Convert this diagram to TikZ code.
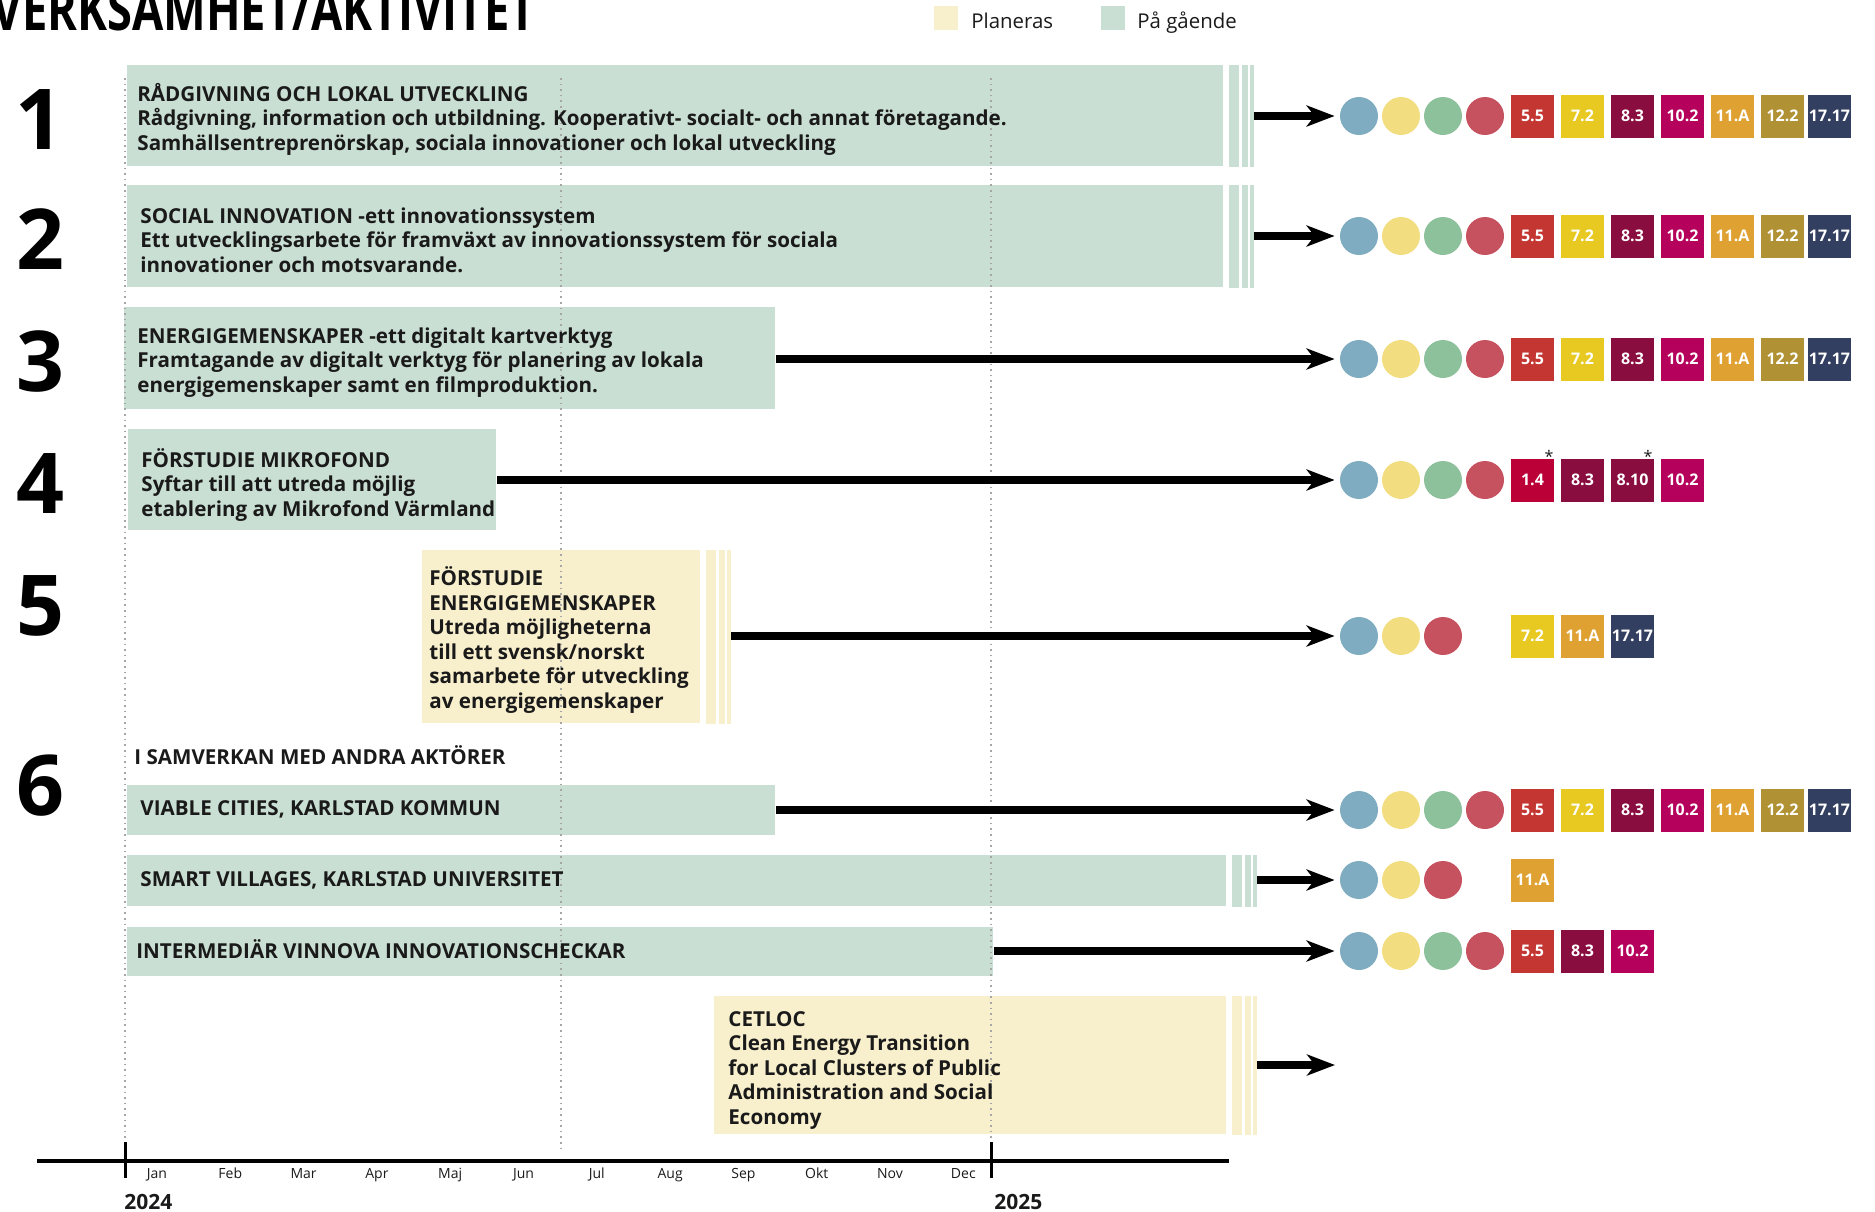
\documentclass[tikz,border=0pt]{standalone}
\usepackage{fontspec}
\setmainfont{Open Sans}
\usetikzlibrary{arrows.meta}
\definecolor{gmint}{HTML}{CADFD3}
\definecolor{ybeige}{HTML}{F8EFCD}
\definecolor{cblue}{HTML}{7FACC0}
\definecolor{cyel}{HTML}{F2DE80}
\definecolor{cgreen}{HTML}{8DC19B}
\definecolor{cred}{HTML}{C5525E}
\definecolor{s55}{HTML}{C43631}
\definecolor{s72}{HTML}{E8C922}
\definecolor{s83}{HTML}{8A0D3F}
\definecolor{s102}{HTML}{B5005C}
\definecolor{s11A}{HTML}{DFA131}
\definecolor{s122}{HTML}{B09133}
\definecolor{s1717}{HTML}{333F60}
\definecolor{s14}{HTML}{BA0037}
\definecolor{ink}{HTML}{1A1A1A}
\tikzset{
  barbox/.style={rectangle,inner sep=0pt,draw=none,anchor=north west},
  cmark/.style={circle,minimum size=19pt,inner sep=0pt,draw=none},
  smark/.style={rectangle,minimum size=21.5pt,inner sep=0pt,draw=none,text=white,font=\bfseries\fontsize{8}{9}\selectfont},
  txt/.style={anchor=base west,inner sep=0pt,align=left,text=ink,font=\bfseries\fontsize{10.3}{12.25}\selectfont},
  bignum/.style={inner sep=0pt,text=black,font=\bfseries\fontsize{42}{44}\selectfont},
  arr/.style={line width=4pt,-{Stealth[length=14pt,width=10.5pt,inset=4pt]},shorten >=2.5pt},
  vdot/.style={gray!70,line width=0.8pt,dotted},
  month/.style={anchor=base,inner sep=0pt,text=ink,font=\fontsize{7}{8}\selectfont},
  year/.style={anchor=base west,inner sep=0pt,text=ink,font=\bfseries\fontsize{10.5}{11}\selectfont},
  legtxt/.style={anchor=base west,inner sep=0pt,text=ink,font=\fontsize{10.2}{12}\selectfont},
}
\newcommand\stripes[2]{%
  \fill[color=#2] ([xshift=2.5pt]#1.north east) rectangle ([xshift=7.5pt]#1.south east);
  \fill[color=#2] ([xshift=9pt]#1.north east) rectangle ([xshift=12pt]#1.south east);
  \fill[color=#2] ([xshift=13pt]#1.north east) rectangle ([xshift=15pt]#1.south east);
  \coordinate (#1e) at ([xshift=15pt]#1.east);}
\newcommand\fourcirc[2]{%
  \node[cmark,fill=cblue] (#1a) at (1359,#2) {};
  \node[cmark,fill=cyel] (#1b) at (1401,#2) {};
  \node[cmark,fill=cgreen] (#1c) at (1443,#2) {};
  \node[cmark,fill=cred] (#1d) at (1485,#2) {};}
\newcommand\threecirc[2]{%
  \node[cmark,fill=cblue] (#1a) at (1359,#2) {};
  \node[cmark,fill=cyel] (#1b) at (1401,#2) {};
  \node[cmark,fill=cred] (#1c) at (1443,#2) {};}
\newcommand\sevensq[2]{%
  \node[smark,fill=s55] (#1s1) at (1532.5,#2) {5.5};
  \node[smark,fill=s72] (#1s2) at (1582.5,#2) {7.2};
  \node[smark,fill=s83] (#1s3) at (1632.5,#2) {8.3};
  \node[smark,fill=s102] (#1s4) at (1682.5,#2) {10.2};
  \node[smark,fill=s11A] (#1s5) at (1732.5,#2) {11.A};
  \node[smark,fill=s122] (#1s6) at (1782.5,#2) {12.2};
  \node[smark,fill=s1717] (#1s7) at (1829.5,#2) {17.17};}
\begin{document}
\begin{tikzpicture}[x=0.5pt,y=-0.5pt]
\useasboundingbox (0,0) rectangle (1875,1211);
% title and legend
\node[anchor=base east,inner sep=0pt,text=black,font=\bfseries\fontsize{29}{30}\selectfont] (title) at (536,30) {\scalebox{0.78}[1]{VERKSAMHET/AKTIVITET}};
\node[barbox,fill=ybeige,minimum width=12pt,minimum height=12pt] (legy) at (934,6) {};
\node[legtxt] (legyt) at (971,28) {Planeras};
\node[barbox,fill=gmint,minimum width=12pt,minimum height=12pt] (legg) at (1101,6) {};
\node[legtxt] (leggt) at (1137,28) {På gående};
% big numbers
\node[bignum] (n1) at (39,120) {1};
\node[bignum] (n2) at (40,239) {2};
\node[bignum] (n3) at (40,361) {3};
\node[bignum] (n4) at (40,484) {4};
\node[bignum] (n5) at (40,606) {5};
\node[bignum] (n6) at (40,786) {6};
% bars
\node[barbox,fill=gmint,minimum width=548pt,minimum height=50.5pt] (b1) at (127,65) {};
\stripes{b1}{gmint}
\node[barbox,fill=gmint,minimum width=548pt,minimum height=51pt] (b2) at (127,185) {};
\stripes{b2}{gmint}
\node[barbox,fill=gmint,minimum width=325.5pt,minimum height=51pt] (b3) at (124,307) {};
\node[barbox,fill=gmint,minimum width=184pt,minimum height=50.5pt] (b4) at (128,429) {};
\node[barbox,fill=ybeige,minimum width=139pt,minimum height=86.5pt] (b5) at (422,550) {};
\stripes{b5}{ybeige}
\node[barbox,fill=gmint,minimum width=324pt,minimum height=25pt] (b6) at (127,785) {};
\node[barbox,fill=gmint,minimum width=549.5pt,minimum height=25.5pt] (b7) at (127,855) {};
\stripes{b7}{gmint}
\node[barbox,fill=gmint,minimum width=433pt,minimum height=24.5pt] (b8) at (127,927) {};
\node[barbox,fill=ybeige,minimum width=256pt,minimum height=69pt] (b9) at (714,996) {};
\stripes{b9}{ybeige}
% dotted month guides
\draw[vdot] (125,78) -- (125,1150);
\draw[vdot] (561,78) -- (561,1150);
\draw[vdot] (991,78) -- (991,1150);
% texts (anchored at the baseline of the last line)
\node[txt] (t1) at (137,150) {RÅDGIVNING OCH LOKAL UTVECKLING\\Rådgivning, information och utbildning. Kooperativt- socialt- och annat företagande.\\Samhällsentreprenörskap, sociala innovationer och lokal utveckling};
\node[txt] (t2) at (140,272) {SOCIAL INNOVATION -ett innovationssystem\\Ett utvecklingsarbete för framväxt av innovationssystem för sociala\\innovationer och motsvarande.};
\node[txt] (t3) at (137,392) {ENERGIGEMENSKAPER -ett digitalt kartverktyg\\Framtagande av digitalt verktyg för planering av lokala\\energigemenskaper samt en filmproduktion.};
\node[txt] (t4) at (141,516) {FÖRSTUDIE MIKROFOND\\Syftar till att utreda möjlig\\etablering av Mikrofond Värmland};
\node[txt] (t5) at (429,708) {FÖRSTUDIE\\ENERGIGEMENSKAPER\\Utreda möjligheterna\\till ett svensk/norskt\\samarbete för utveckling\\av energigemenskaper};
\node[txt] (t6h) at (134,764) {I SAMVERKAN MED ANDRA AKTÖRER};
\node[txt] (t6) at (140,815) {VIABLE CITIES, KARLSTAD KOMMUN};
\node[txt] (t7) at (140,886) {SMART VILLAGES, KARLSTAD UNIVERSITET};
\node[txt] (t8) at (136,958) {INTERMEDIÄR VINNOVA INNOVATIONSCHECKAR};
\node[txt] (t9) at (728,1124) {CETLOC\\Clean Energy Transition\\for Local Clusters of Public\\Administration and Social\\Economy};
% marks
\fourcirc{r1}{116}\sevensq{r1}{116}
\fourcirc{r2}{236}\sevensq{r2}{236}
\fourcirc{r3}{359}\sevensq{r3}{359}
\fourcirc{r4}{480}
\node[smark,fill=s14] (r4s1) at (1532.5,480) {1.4};
\node[smark,fill=s83] (r4s2) at (1582.5,480) {8.3};
\node[smark,fill=s83] (r4s3) at (1632.5,480) {8.10};
\node[smark,fill=s102] (r4s4) at (1682.5,480) {10.2};
\node[inner sep=0pt,text=ink,font=\fontsize{8}{8}\selectfont] (ast1) at (1549,456) {*};
\node[inner sep=0pt,text=ink,font=\fontsize{8}{8}\selectfont] (ast2) at (1648,456) {*};
\threecirc{r5}{636}
\node[smark,fill=s72] (r5s1) at (1532.5,636) {7.2};
\node[smark,fill=s11A] (r5s2) at (1582.5,636) {11.A};
\node[smark,fill=s1717] (r5s3) at (1632.5,636) {17.17};
\fourcirc{r6}{810}\sevensq{r6}{810}
\threecirc{r7}{880}
\node[smark,fill=s11A] (r7s1) at (1532.5,880) {11.A};
\fourcirc{r8}{951}
\node[smark,fill=s55] (r8s1) at (1532.5,951) {5.5};
\node[smark,fill=s83] (r8s2) at (1582.5,951) {8.3};
\node[smark,fill=s102] (r8s3) at (1632.5,951) {10.2};
\coordinate (r9end) at (1340,1065);
% arrows
\draw[arr] (b1e |- r1a) -- (r1a.west);
\draw[arr] (b2e |- r2a) -- (r2a.west);
\draw[arr] (b3.east |- r3a) -- (r3a.west);
\draw[arr] (b4.east |- r4a) -- (r4a.west);
\draw[arr] (b5e |- r5a) -- (r5a.west);
\draw[arr] (b6.east |- r6a) -- (r6a.west);
\draw[arr] (b7e |- r7a) -- (r7a.west);
\draw[arr] (b8.east |- r8a) -- (r8a.west);
\draw[arr] (b9e |- r9end) -- (r9end);
% timeline
\coordinate (axl) at (37,1161);
\coordinate (axr) at (1229,1161);
\draw[line width=2pt] (axl) -- (axr);
\draw[line width=1.5pt] (125,1142) -- (125,1178);
\draw[line width=1.5pt] (991,1142) -- (991,1178);
\foreach \m [count=\i from 0] in {Jan,Feb,Mar,Apr,Maj,Jun,Jul,Aug,Sep,Okt,Nov,Dec}{
  \node[month] (m\i) at (157+73.3*\i,1178) {\m};
}
\node[year] (y24) at (124,1209) {2024};
\node[year] (y25) at (994,1209) {2025};
\end{tikzpicture}
\end{document}
